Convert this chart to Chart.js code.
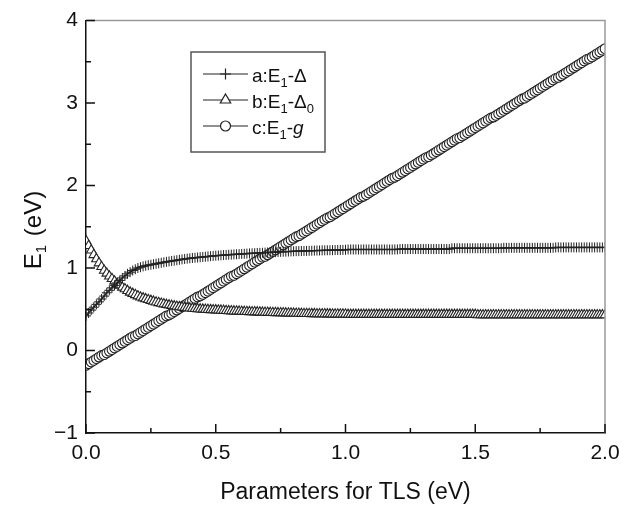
<!DOCTYPE html>
<html>
<head>
<meta charset="utf-8">
<script src="https://cdn.jsdelivr.net/npm/chart.js@4.4.0/dist/chart.umd.min.js"></script>
<style>
html, body { margin: 0; padding: 0; background: #fff; }
</style>
</head>
<body>
<canvas id="myChart" width="638" height="509"></canvas>
<script>
// x: parametros do TLS (eV), passo 0.01
var xs = [
0.00,0.01,0.02,0.03,0.04,0.05,0.06,0.07,0.08,0.09,
0.10,0.11,0.12,0.13,0.14,0.15,0.16,0.17,0.18,0.19,
0.20,0.21,0.22,0.23,0.24,0.25,0.26,0.27,0.28,0.29,
0.30,0.31,0.32,0.33,0.34,0.35,0.36,0.37,0.38,0.39,
0.40,0.41,0.42,0.43,0.44,0.45,0.46,0.47,0.48,0.49,
0.50,0.51,0.52,0.53,0.54,0.55,0.56,0.57,0.58,0.59,
0.60,0.61,0.62,0.63,0.64,0.65,0.66,0.67,0.68,0.69,
0.70,0.71,0.72,0.73,0.74,0.75,0.76,0.77,0.78,0.79,
0.80,0.81,0.82,0.83,0.84,0.85,0.86,0.87,0.88,0.89,
0.90,0.91,0.92,0.93,0.94,0.95,0.96,0.97,0.98,0.99,
1.00,1.01,1.02,1.03,1.04,1.05,1.06,1.07,1.08,1.09,
1.10,1.11,1.12,1.13,1.14,1.15,1.16,1.17,1.18,1.19,
1.20,1.21,1.22,1.23,1.24,1.25,1.26,1.27,1.28,1.29,
1.30,1.31,1.32,1.33,1.34,1.35,1.36,1.37,1.38,1.39,
1.40,1.41,1.42,1.43,1.44,1.45,1.46,1.47,1.48,1.49,
1.50,1.51,1.52,1.53,1.54,1.55,1.56,1.57,1.58,1.59,
1.60,1.61,1.62,1.63,1.64,1.65,1.66,1.67,1.68,1.69,
1.70,1.71,1.72,1.73,1.74,1.75,1.76,1.77,1.78,1.79,
1.80,1.81,1.82,1.83,1.84,1.85,1.86,1.87,1.88,1.89,
1.90,1.91,1.92,1.93,1.94,1.95,1.96,1.97,1.98,1.99,
2.00
];

// a: E1-Delta (+)
var serieA = [
0.42,0.455,0.49,0.525,0.56,0.59,0.625,0.66,0.70,0.73,
0.76,0.79,0.82,0.85,0.88,0.905,0.93,0.95,0.97,0.985,
1.00,1.01,1.02,1.028,1.035,1.04,1.046,1.052,1.058,1.064,
1.07,1.075,1.08,1.085,1.09,1.095,1.10,1.105,1.11,1.114,
1.118,1.122,1.125,1.128,1.131,1.134,1.137,1.14,1.144,1.147,
1.15,1.152,1.154,1.157,1.159,1.161,1.163,1.165,1.167,1.169,
1.171,1.173,1.175,1.177,1.179,1.18,1.182,1.184,1.185,1.187,
1.189,1.19,1.192,1.193,1.195,1.196,1.198,1.199,1.20,1.202,
1.203,1.204,1.205,1.206,1.207,1.208,1.209,1.21,1.211,1.212,
1.213,1.214,1.215,1.216,1.216,1.217,1.218,1.219,1.219,1.22,
1.221,1.225,1.225,1.225,1.225,1.225,1.225,1.225,1.225,1.225,
1.225,1.225,1.225,1.225,1.225,1.225,1.225,1.225,1.225,1.225,
1.225,1.23,1.23,1.23,1.23,1.23,1.23,1.23,1.23,1.23,
1.23,1.23,1.23,1.23,1.23,1.23,1.23,1.23,1.23,1.23,
1.23,1.24,1.24,1.24,1.24,1.24,1.24,1.24,1.24,1.24,
1.24,1.24,1.24,1.24,1.24,1.24,1.24,1.24,1.24,1.24,
1.24,1.245,1.245,1.245,1.245,1.245,1.245,1.245,1.245,1.245,
1.245,1.245,1.245,1.245,1.245,1.245,1.245,1.245,1.245,1.245,
1.245,1.25,1.25,1.25,1.25,1.25,1.25,1.25,1.25,1.25,
1.25,1.25,1.25,1.25,1.25,1.25,1.25,1.25,1.25,1.25,
1.25
];

// b: E1-Delta0 (triangulos)
var serieB = [
1.33,1.27,1.215,1.16,1.11,1.06,1.015,0.97,0.935,0.90,
0.87,0.84,0.81,0.79,0.765,0.745,0.725,0.705,0.69,0.675,
0.66,0.645,0.635,0.625,0.615,0.605,0.595,0.585,0.578,0.57,
0.563,0.556,0.55,0.544,0.538,0.533,0.528,0.524,0.52,0.516,
0.513,0.51,0.507,0.504,0.501,0.499,0.497,0.495,0.493,0.491,
0.49,0.488,0.486,0.484,0.482,0.48,0.478,0.477,0.475,0.474,
0.472,0.471,0.47,0.468,0.467,0.466,0.465,0.463,0.462,0.461,
0.46,0.459,0.458,0.457,0.456,0.455,0.454,0.453,0.452,0.451,
0.45,0.449,0.448,0.447,0.446,0.446,0.445,0.444,0.444,0.443,
0.443,0.442,0.442,0.441,0.441,0.44,0.44,0.44,0.439,0.439,
0.439,0.435,0.435,0.435,0.435,0.435,0.435,0.435,0.435,0.435,
0.435,0.435,0.435,0.435,0.435,0.435,0.435,0.435,0.435,0.435,
0.435,0.435,0.435,0.435,0.435,0.435,0.435,0.435,0.435,0.435,
0.435,0.435,0.435,0.435,0.435,0.435,0.435,0.435,0.435,0.435,
0.435,0.435,0.435,0.435,0.435,0.435,0.435,0.435,0.435,0.435,
0.435,0.43,0.43,0.43,0.43,0.43,0.43,0.43,0.43,0.43,
0.43,0.43,0.43,0.43,0.43,0.43,0.43,0.43,0.43,0.43,
0.43,0.43,0.43,0.43,0.43,0.43,0.43,0.43,0.43,0.43,
0.43,0.43,0.43,0.43,0.43,0.43,0.43,0.43,0.43,0.43,
0.43,0.43,0.43,0.43,0.43,0.43,0.43,0.43,0.43,0.43,
0.43
];

// c: E1-g (circulos)
var serieC = [
-0.18,-0.16,-0.14,-0.12,-0.10,-0.08,-0.06,-0.05,-0.03,-0.01,
0.01,0.03,0.05,0.07,0.09,0.11,0.13,0.15,0.17,0.18,
0.20,0.22,0.24,0.26,0.28,0.30,0.32,0.34,0.36,0.38,
0.40,0.42,0.43,0.45,0.47,0.49,0.51,0.53,0.55,0.57,
0.59,0.61,0.63,0.65,0.66,0.68,0.70,0.72,0.74,0.76,
0.78,0.80,0.82,0.84,0.86,0.88,0.90,0.91,0.93,0.95,
0.97,0.99,1.01,1.03,1.05,1.07,1.09,1.11,1.13,1.14,
1.16,1.18,1.20,1.22,1.24,1.26,1.28,1.30,1.32,1.34,
1.36,1.38,1.39,1.41,1.43,1.45,1.47,1.49,1.51,1.53,
1.55,1.57,1.59,1.61,1.62,1.64,1.66,1.68,1.70,1.72,
1.74,1.76,1.78,1.80,1.82,1.84,1.86,1.87,1.89,1.91,
1.93,1.95,1.97,1.99,2.01,2.03,2.05,2.07,2.09,2.10,
2.12,2.14,2.16,2.18,2.20,2.22,2.24,2.26,2.28,2.30,
2.32,2.34,2.35,2.37,2.39,2.41,2.43,2.45,2.47,2.49,
2.51,2.53,2.55,2.57,2.58,2.60,2.62,2.64,2.66,2.68,
2.70,2.72,2.74,2.76,2.78,2.80,2.82,2.83,2.85,2.87,
2.89,2.91,2.93,2.95,2.97,2.99,3.01,3.03,3.05,3.06,
3.08,3.10,3.12,3.14,3.16,3.18,3.20,3.22,3.24,3.26,
3.28,3.30,3.31,3.33,3.35,3.37,3.39,3.41,3.43,3.45,
3.47,3.49,3.51,3.53,3.54,3.56,3.58,3.60,3.62,3.64,
3.66
];

var xMajor = [0, 0.5, 1.0, 1.5, 2.0];
var xMinor = [0.25, 0.75, 1.25, 1.75];
var yMajor = [-1, 0, 1, 2, 3, 4];
var yMinor = [-0.5, 0.5, 1.5, 2.5, 3.5];

// legenda: [texto, subscrito, texto, subscrito, texto italico]
var legA = ['a:E', '1', '-\u0394', '', ''];
var legB = ['b:E', '1', '-\u0394', '0', ''];
var legC = ['c:E', '1', '-', '', 'g'];

var fonte = '"Liberation Sans", Arial, Helvetica, sans-serif';
var cor = '#222';

function pares(ys) {
  return xs.map(function (x, i) { return { x: x, y: ys[i] }; });
}

// ticks para dentro + bordas de cima e da direita
var molduraPlugin = {
  id: 'moldura',
  afterDatasetsDraw: function (chart) {
    var ctx = chart.ctx, sx = chart.scales.x, sy = chart.scales.y, area = chart.chartArea;
    ctx.save();
    ctx.strokeStyle = '#999';
    ctx.lineWidth = 1.5;
    ctx.beginPath();
    ctx.moveTo(area.left, area.top);
    ctx.lineTo(area.right, area.top);
    ctx.lineTo(area.right, area.bottom);
    ctx.stroke();

    ctx.strokeStyle = '#111';
    ctx.lineWidth = 1.5;
    ctx.beginPath();
    yMajor.forEach(function (v) { var p = sy.getPixelForValue(v); ctx.moveTo(area.left, p); ctx.lineTo(area.left + 9, p); });
    yMinor.forEach(function (v) { var p = sy.getPixelForValue(v); ctx.moveTo(area.left, p); ctx.lineTo(area.left + 5, p); });
    xMajor.forEach(function (v) { var p = sx.getPixelForValue(v); ctx.moveTo(p, area.bottom); ctx.lineTo(p, area.bottom - 9); });
    xMinor.forEach(function (v) { var p = sx.getPixelForValue(v); ctx.moveTo(p, area.bottom); ctx.lineTo(p, area.bottom - 5); });
    ctx.stroke();
    ctx.restore();
  },
  afterDraw: function (chart) {
    var ctx = chart.ctx;
    // titulo do eixo y: E1 (eV)
    ctx.save();
    ctx.translate(32, 230);
    ctx.rotate(-Math.PI / 2);
    ctx.fillStyle = '#111';
    ctx.textBaseline = 'alphabetic';
    ctx.font = '24px ' + fonte;
    var w1 = ctx.measureText('E').width;
    ctx.font = '15px ' + fonte;
    var ws = ctx.measureText('1').width;
    ctx.font = '24px ' + fonte;
    var w3 = ctx.measureText(' (eV)').width;
    var x0 = -(w1 + ws + 2 + w3) / 2;
    ctx.fillText('E', x0, 9);
    ctx.font = '15px ' + fonte;
    ctx.fillText('1', x0 + w1, 14);
    ctx.font = '24px ' + fonte;
    ctx.fillText(' (eV)', x0 + w1 + ws + 2, 9);
    ctx.restore();

    // legenda
    ctx.save();
    ctx.fillStyle = '#fff';
    ctx.fillRect(191, 52, 134, 100);
    ctx.strokeStyle = '#555';
    ctx.lineWidth = 1.5;
    ctx.strokeRect(191, 52, 134, 100);
    var linhas = [legA, legB, legC];
    var estilos = [
      { pointStyle: 'cross', radius: 5.5, rotation: 0, borderWidth: 1.2 },
      { pointStyle: 'triangle', radius: 6, rotation: 0, borderWidth: 1.2 },
      { pointStyle: 'circle', radius: 5, rotation: 0, borderWidth: 1.2 }
    ];
    var ys0 = [74, 100, 126];
    for (var i = 0; i < 3; i++) {
      var y = ys0[i];
      ctx.strokeStyle = cor;
      ctx.lineWidth = 1;
      ctx.beginPath();
      ctx.moveTo(203, y); ctx.lineTo(248, y);
      ctx.stroke();
      ctx.fillStyle = '#fff';
      ctx.strokeStyle = cor;
      ctx.lineWidth = 1.2;
      Chart.helpers.drawPoint(ctx, estilos[i], 225.5, y);
      var p = linhas[i];
      var x = 252, base = y + 8;
      ctx.fillStyle = '#111';
      ctx.font = '19px ' + fonte;
      ctx.fillText(p[0], x, base); x += ctx.measureText(p[0]).width;
      ctx.font = '13px ' + fonte;
      ctx.fillText(p[1], x, base + 5); x += ctx.measureText(p[1]).width;
      ctx.font = '19px ' + fonte;
      ctx.fillText(p[2], x, base); x += ctx.measureText(p[2]).width;
      if (p[3]) { ctx.font = '13px ' + fonte; ctx.fillText(p[3], x, base + 5); x += ctx.measureText(p[3]).width; }
      if (p[4]) { ctx.font = 'italic 19px ' + fonte; ctx.fillText(p[4], x, base); }
    }
    ctx.restore();
  }
};

var ctx = document.getElementById('myChart').getContext('2d');
var myChart = new Chart(ctx, {
  type: 'line',
  data: {
    datasets: [{
      label: 'a:E1-\u0394',
      data: pares(serieA),
      borderColor: cor,
      borderWidth: 1.5,
      pointStyle: 'cross',
      pointRadius: 5,
      pointBorderWidth: 1,
      pointBorderColor: cor,
      pointBackgroundColor: cor,
      tension: 0
    }, {
      label: 'b:E1-\u03940',
      data: pares(serieB),
      borderColor: cor,
      borderWidth: 1,
      pointStyle: 'triangle',
      pointRadius: 5.5,
      pointBorderWidth: 1.1,
      pointBorderColor: cor,
      pointBackgroundColor: '#fff',
      tension: 0
    }, {
      label: 'c:E1-g',
      data: pares(serieC),
      borderColor: cor,
      borderWidth: 1,
      pointStyle: 'circle',
      pointRadius: 4.8,
      pointBorderWidth: 1.1,
      pointBorderColor: cor,
      pointBackgroundColor: '#fff',
      tension: 0
    }]
  },
  options: {
    responsive: false,
    animation: false,
    events: [],
    layout: { padding: { top: 11, right: 33, left: 0, bottom: 0 } },
    plugins: { legend: { display: false }, tooltip: { enabled: false } },
    scales: {
      x: {
        type: 'linear',
        min: 0, max: 2,
        afterFit: function (s) { s.height = 76; },
        grid: { display: false, drawTicks: false },
        border: { display: true, color: '#111', width: 1.5 },
        ticks: {
          stepSize: 0.5, padding: 8, color: '#111',
          font: { family: fonte, size: 21 },
          callback: function (v) { return v.toFixed(1); }
        },
        title: {
          display: true, text: 'Parameters for TLS (eV)', color: '#111',
          font: { family: fonte, size: 23 }, padding: { top: 0, bottom: 3 }
        }
      },
      y: {
        min: -1, max: 4,
        afterFit: function (s) { s.width = 86; },
        grid: { display: false, drawTicks: false },
        border: { display: true, color: '#111', width: 1.5 },
        ticks: {
          stepSize: 1, padding: 8, color: '#111',
          font: { family: fonte, size: 21 },
          callback: function (v) { return v < 0 ? '\u2212' + Math.abs(v) : '' + v; }
        }
      }
    }
  },
  plugins: [molduraPlugin]
});
</script>
</body>
</html>
